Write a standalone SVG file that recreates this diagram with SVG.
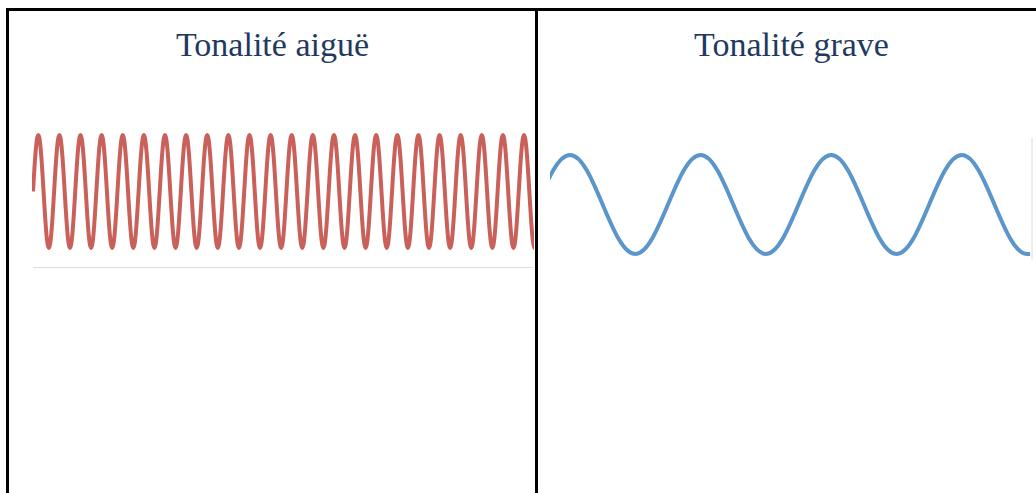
<svg xmlns="http://www.w3.org/2000/svg" width="1036" height="493" viewBox="0 0 1036 493">
<style>
.border{stroke:#000;stroke-width:3;fill:none}
.title{font-family:"Liberation Serif",serif;font-size:34px;fill:#1f3a60;text-anchor:middle}
.axis{stroke:#dcdcdc;stroke-width:1;fill:none}
.wave{fill:none;stroke-width:4;stroke-linejoin:round}
</style>
<defs>
<clipPath id="clipBlue"><rect x="550" y="100" width="481" height="200"/></clipPath>
<clipPath id="clipRed"><rect x="32" y="100" width="502" height="200"/></clipPath>
</defs>
<rect width="1036" height="493" fill="#fff"/>
<g id="table">
<line class="border" x1="6" y1="9.5" x2="1036" y2="9.5"/>
<line class="border" x1="7.5" y1="8" x2="7.5" y2="493"/>
<line class="border" x1="536.5" y1="8" x2="536.5" y2="493"/>
</g>
<g id="cell-aigue">
<text class="title" x="272.5" y="56">Tonalité aiguë</text>
<line class="axis" x1="33" y1="267.5" x2="533" y2="267.5"/>
<path class="wave" stroke="#c9615a" clip-path="url(#clipRed)" d="M33,191.5 c1.722,-28.94 3.369,-56.5 5.28,-56.5
s3.558,27.56 5.28,56.5 s3.369,56.5 5.28,56.5 s3.558,-27.56 5.28,-56.5 s3.369,-56.5 5.28,-56.5
s3.558,27.56 5.28,56.5 s3.369,56.5 5.28,56.5 s3.558,-27.56 5.28,-56.5 s3.369,-56.5 5.28,-56.5
s3.558,27.56 5.28,56.5 s3.369,56.5 5.28,56.5 s3.558,-27.56 5.28,-56.5 s3.369,-56.5 5.28,-56.5
s3.558,27.56 5.28,56.5 s3.369,56.5 5.28,56.5 s3.558,-27.56 5.28,-56.5 s3.369,-56.5 5.28,-56.5
s3.558,27.56 5.28,56.5 s3.369,56.5 5.28,56.5 s3.558,-27.56 5.28,-56.5 s3.369,-56.5 5.28,-56.5
s3.558,27.56 5.28,56.5 s3.369,56.5 5.28,56.5 s3.558,-27.56 5.28,-56.5 s3.369,-56.5 5.28,-56.5
s3.558,27.56 5.28,56.5 s3.369,56.5 5.28,56.5 s3.558,-27.56 5.28,-56.5 s3.369,-56.5 5.28,-56.5
s3.558,27.56 5.28,56.5 s3.369,56.5 5.28,56.5 s3.558,-27.56 5.28,-56.5 s3.369,-56.5 5.28,-56.5
s3.558,27.56 5.28,56.5 s3.369,56.5 5.28,56.5 s3.558,-27.56 5.28,-56.5 s3.369,-56.5 5.28,-56.5
s3.558,27.56 5.28,56.5 s3.369,56.5 5.28,56.5 s3.558,-27.56 5.28,-56.5 s3.369,-56.5 5.28,-56.5
s3.558,27.56 5.28,56.5 s3.369,56.5 5.28,56.5 s3.558,-27.56 5.28,-56.5 s3.369,-56.5 5.28,-56.5
s3.558,27.56 5.28,56.5 s3.369,56.5 5.28,56.5 s3.558,-27.56 5.28,-56.5 s3.369,-56.5 5.28,-56.5
s3.558,27.56 5.28,56.5 s3.369,56.5 5.28,56.5 s3.558,-27.56 5.28,-56.5 s3.369,-56.5 5.28,-56.5
s3.558,27.56 5.28,56.5 s3.369,56.5 5.28,56.5 s3.558,-27.56 5.28,-56.5 s3.369,-56.5 5.28,-56.5
s3.558,27.56 5.28,56.5 s3.369,56.5 5.28,56.5 s3.558,-27.56 5.28,-56.5 s3.369,-56.5 5.28,-56.5
s3.558,27.56 5.28,56.5 s3.369,56.5 5.28,56.5 s3.558,-27.56 5.28,-56.5 s3.369,-56.5 5.28,-56.5
s3.558,27.56 5.28,56.5 s3.369,56.5 5.28,56.5 s3.558,-27.56 5.28,-56.5 s3.369,-56.5 5.28,-56.5
s3.558,27.56 5.28,56.5 s3.369,56.5 5.28,56.5 s3.558,-27.56 5.28,-56.5 s3.369,-56.5 5.28,-56.5
s3.558,27.56 5.28,56.5 s3.369,56.5 5.28,56.5 s3.558,-27.56 5.28,-56.5 s3.369,-56.5 5.28,-56.5
s3.558,27.56 5.28,56.5 s3.369,56.5 5.28,56.5 s3.558,-27.56 5.28,-56.5 s3.369,-56.5 5.28,-56.5
s3.558,27.56 5.28,56.5 s3.369,56.5 5.28,56.5 s3.558,-27.56 5.28,-56.5 s3.369,-56.5 5.28,-56.5
s3.558,27.56 5.28,56.5 s3.369,56.5 5.28,56.5 s3.558,-27.56 5.28,-56.5 s3.369,-56.5 5.28,-56.5
s3.558,27.56 5.28,56.5 s3.369,56.5 5.28,56.5 s3.558,-27.56 5.28,-56.5 s3.369,-56.5 5.28,-56.5
s3.558,27.56 5.28,56.5 s3.369,56.5 5.28,56.5"/>
</g>
<g id="cell-grave">
<text class="title" x="791.5" y="56">Tonalité grave</text>
<line class="axis" x1="1032" y1="138" x2="1032" y2="260"/>
<path class="wave" stroke="#5b96cb" clip-path="url(#clipBlue)" d="M537.35,204.5 c10.648,-25.36 20.834,-49.5 32.65,-49.5
s22.002,24.14 32.65,49.5 s20.834,49.5 32.65,49.5 s22.002,-24.14 32.65,-49.5 s20.834,-49.5 32.65,-49.5
s22.002,24.14 32.65,49.5 s20.834,49.5 32.65,49.5 s22.002,-24.14 32.65,-49.5 s20.834,-49.5 32.65,-49.5
s22.002,24.14 32.65,49.5 s20.834,49.5 32.65,49.5 s22.002,-24.14 32.65,-49.5 s20.834,-49.5 32.65,-49.5
s22.002,24.14 32.65,49.5 s20.834,49.5 32.65,49.5 h3"/>
</g>
</svg>
